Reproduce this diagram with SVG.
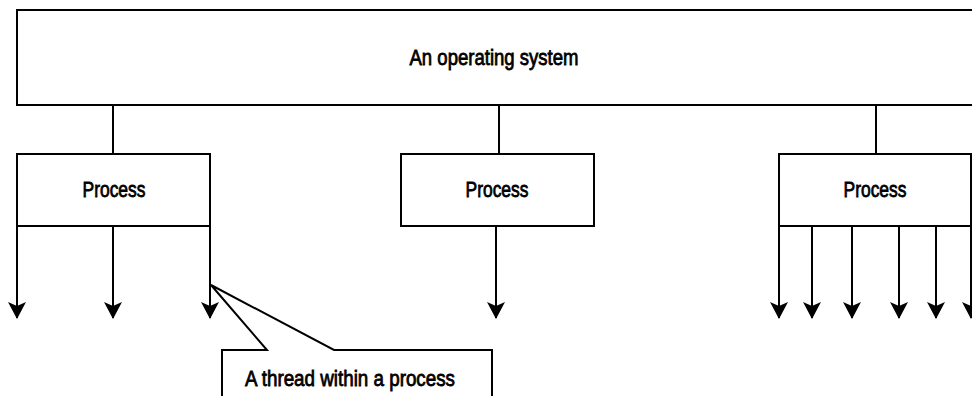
<svg xmlns="http://www.w3.org/2000/svg" width="972" height="396" viewBox="0 0 972 396">
<style>
.box{fill:#fff;stroke:#000;stroke-width:2}
.ln{fill:none;stroke:#000;stroke-width:2}
.t{font-family:"Liberation Sans",Arial,sans-serif;font-size:22px;font-weight:normal;fill:#000;stroke:#000;stroke-width:0.8;text-anchor:middle}
</style>
<defs>
<marker id="ah" markerUnits="userSpaceOnUse" markerWidth="20" markerHeight="20" refX="18" refY="10" orient="auto" viewBox="0 0 20 20">
<path d="M19,10 L2,1 L6,10 L2,19 Z" fill="#000"/>
</marker>
</defs>
<g id="connectors">
<path class="ln" d="M113,105V154M499,105V154M876,105V154"/>
<path class="ln" marker-end="url(#ah)" d="M17,226V318"/>
<path class="ln" marker-end="url(#ah)" d="M113,226V318"/>
<path class="ln" marker-end="url(#ah)" d="M210,226V318"/>
<path class="ln" marker-end="url(#ah)" d="M496,226V318"/>
<path class="ln" marker-end="url(#ah)" d="M779,226V318"/>
<path class="ln" marker-end="url(#ah)" d="M812,226V318"/>
<path class="ln" marker-end="url(#ah)" d="M852,226V318"/>
<path class="ln" marker-end="url(#ah)" d="M899,226V318"/>
<path class="ln" marker-end="url(#ah)" d="M936,226V318"/>
<path class="ln" marker-end="url(#ah)" d="M971,226V318"/>
</g>
<g id="os">
<rect class="box" x="17" y="10" width="965" height="95"/>
<text class="t" x="494" y="65" textLength="169" lengthAdjust="spacingAndGlyphs">An operating system</text>
</g>
<g id="process1">
<rect class="box" x="17" y="154" width="193" height="72"/>
<text class="t" x="114" y="197" textLength="63" lengthAdjust="spacingAndGlyphs">Process</text>
</g>
<g id="process2">
<rect class="box" x="401" y="154" width="193" height="72"/>
<text class="t" x="497" y="197" textLength="63" lengthAdjust="spacingAndGlyphs">Process</text>
</g>
<g id="process3">
<rect class="box" x="779" y="154" width="192" height="72"/>
<text class="t" x="875" y="197" textLength="63" lengthAdjust="spacingAndGlyphs">Process</text>
</g>
<g id="callout">
<path class="box" d="M222,400V350H267L211,285L334,350H492V400"/>
<text class="t" x="350" y="386" textLength="210" lengthAdjust="spacingAndGlyphs">A thread within a process</text>
</g>
</svg>
